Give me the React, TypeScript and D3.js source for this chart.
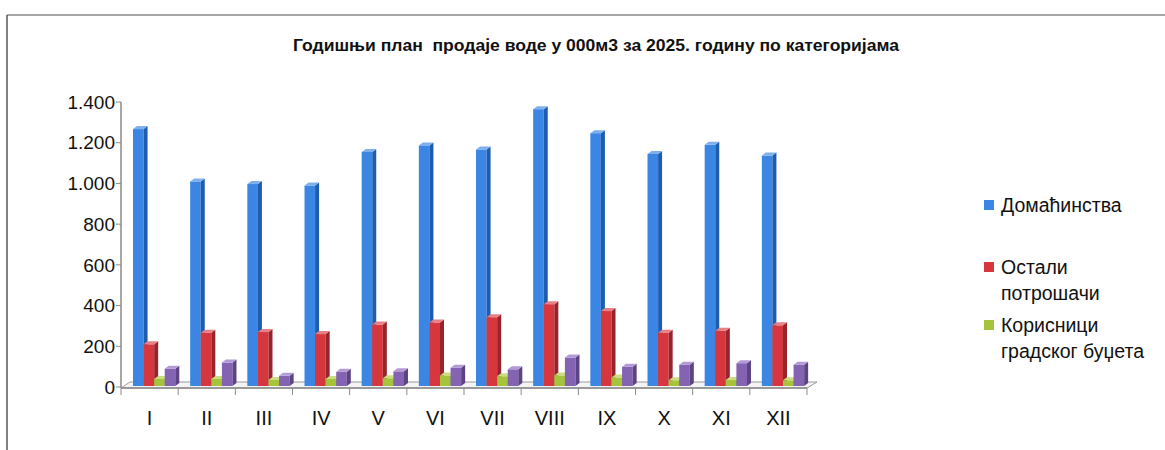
import React from "react";
import * as d3 from "d3";

const title = "Годишњи план  продаје воде у 000м3 за 2025. годину по категоријама";
const months = ["I", "II", "III", "IV", "V", "VI", "VII", "VIII", "IX", "X", "XI", "XII"];
const seriesNames = ["Домаћинства", "Остали потрошачи", "Корисници градског буџета", "Остало"];
const households = [1262, 1005, 992, 985, 1150, 1182, 1162, 1360, 1242, 1140, 1185, 1132];
const otherConsumers = [205, 262, 265, 255, 302, 312, 338, 402, 368, 262, 272, 298];
const cityBudget = [35, 35, 30, 35, 38, 52, 48, 52, 42, 28, 30, 28];
const fourth = [85, 115, 50, 70, 72, 90, 82, 140, 95, 105, 112, 105];
const yTicks = [0, 200, 400, 600, 800, 1000, 1200, 1400];
const legendLines = [["Домаћинства"], ["Остали", "потрошачи"], ["Корисници", "градског буџета"]];

const colors = [
  { front: "#3a86e2", side: "#1e5cb0", top: "#7fb0ee" },
  { front: "#d6373e", side: "#98232a", top: "#e98085" },
  { front: "#a6c33c", side: "#6e8a1f", top: "#c9de80" },
  { front: "#8563b3", side: "#5b4384", top: "#b39ad6" },
];

const fmt = (v: number) => (v >= 1000 ? d3.format(",")(v).replace(",", ".") : String(v));

export default function App() {
  const data = [households, otherConsumers, cityBudget, fourth];
  const axisX0 = 121;
  const axisX1 = 807;
  const y = d3.scaleLinear().domain([0, 1400]).range([387, 102]);
  const x0 = d3.scaleBand<string>().domain(months).range([axisX0, axisX1]).padding(0);
  const bw = x0.bandwidth();
  const x1 = d3
    .scaleBand<number>()
    .domain([0, 1, 2, 3])
    .range([bw * 0.21, bw * 0.95])
    .padding(0);
  const w = x1.bandwidth();
  const ddx = 4;
  const ddy = 3;
  const base = 386;
  const font = "'Liberation Sans', Arial, sans-serif";

  const bars: React.ReactNode[] = [];
  months.forEach((m, i) => {
    data.forEach((arr, s) => {
      const xl = (x0(m) as number) + (x1(s) as number);
      const yt = base - (y(0) - y(arr[i]));
      const c = colors[s];
      bars.push(
        <g key={`${m}-${s}`}>
          <rect x={xl} y={yt} width={w} height={base - yt} fill={c.front} />
          <polygon
            points={`${xl + w},${yt} ${xl + w + ddx},${yt - ddy} ${xl + w + ddx},${base - ddy} ${xl + w},${base}`}
            fill={c.side}
          />
          <polygon
            points={`${xl},${yt} ${xl + ddx},${yt - ddy} ${xl + w + ddx},${yt - ddy} ${xl + w},${yt}`}
            fill={c.top}
          />
        </g>
      );
    });
  });

  return (
    <svg
      width={1165}
      height={450}
      style={{ position: "absolute", left: 0, top: 0, background: "#fff" }}
    >
      <rect x={0} y={0} width={1165} height={450} fill="#fff" />
      {/* frame */}
      <line x1={7} y1={15} x2={1165} y2={15} stroke="#8a8a8a" strokeWidth={1.5} />
      <line x1={7} y1={15} x2={7} y2={450} stroke="#555" strokeWidth={1.5} />
      <text
        x={596}
        y={51}
        textAnchor="middle"
        fontFamily={font}
        fontWeight="bold"
        fontSize={16}
        textLength={606}
        lengthAdjust="spacingAndGlyphs"
        fill="#111"
        style={{ whiteSpace: "pre" }}
      >
        {title}
      </text>
      {/* floor */}
      <polygon
        points={`${axisX0},388 ${axisX0 + 9},382 ${axisX1 + 10},382 ${axisX1},388`}
        fill="#f4f4f4"
        stroke="#9a9a9a"
        strokeWidth={1}
      />
      {/* y axis */}
      <line x1={axisX0} y1={y(1400)} x2={axisX0} y2={388} stroke="#8a8a8a" strokeWidth={1.5} />
      {yTicks.map((t) => (
        <g key={t}>
          <line x1={axisX0 - 5} x2={axisX0} y1={y(t)} y2={y(t)} stroke="#8a8a8a" />
          <text
            x={115}
            y={y(t)}
            dy="0.35em"
            textAnchor="end"
            fontFamily={font}
            fontSize={19}
            fill="#111"
          >
            {fmt(t)}
          </text>
        </g>
      ))}
      {/* x axis */}
      <line x1={axisX0} x2={axisX1} y1={388} y2={388} stroke="#8a8a8a" strokeWidth={1.5} />
      {months.concat(["end"]).map((m, i) => {
        const xx = axisX0 + i * bw;
        return <line key={m} x1={xx} x2={xx} y1={388} y2={395} stroke="#8a8a8a" />;
      })}
      {months.map((m) => (
        <text
          key={m}
          x={(x0(m) as number) + bw / 2}
          y={425}
          textAnchor="middle"
          fontFamily={font}
          fontSize={20}
          fill="#111"
        >
          {m}
        </text>
      ))}
      {bars}
      {/* legend */}
      {legendLines.map((lines, i) => {
        const ly = [205, 267, 325][i];
        return (
          <g key={i}>
            <rect x={984} y={ly - 5} width={10} height={10} fill={colors[i].front} />
            {lines.map((ln, j) => (
              <text
                key={j}
                x={1001}
                y={ly + j * 26}
                dy="0.35em"
                fontFamily={font}
                fontSize={19.5}
                fill="#111"
              >
                {ln}
              </text>
            ))}
          </g>
        );
      })}
    </svg>
  );
}
